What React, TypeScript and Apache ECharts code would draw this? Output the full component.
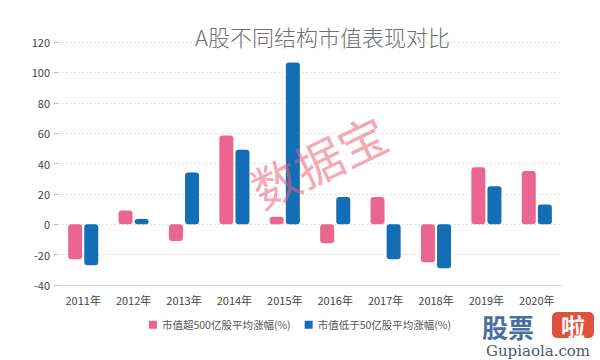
import React, { useEffect, useRef } from "react";
import * as echarts from "echarts";

const categories = ["2011年", "2012年", "2013年", "2014年", "2015年", "2016年", "2017年", "2018年", "2019年", "2020年"];
const seriesNames = ["市值超500亿股平均涨幅(%)", "市值低于50亿股平均涨幅(%)"];
const largeCap = [-23, 9, -11, 58.5, 5, -12.5, 18, -25, 37.5, 35];
const smallCap = [-27, 3.5, 34, 49, 106.5, 18, -23, -29, 25, 13];
const yMin = -40;
const yMax = 120;
const yInterval = 20;

export default function App() {
  const ref = useRef<HTMLDivElement>(null);
  useEffect(() => {
    if (!ref.current) return;
    const chart = echarts.init(ref.current, undefined, { renderer: "svg" });
    chart.setOption({
      animation: false,
      backgroundColor: "#ffffff",
      title: {
        text: "A股不同结构市值表现对比",
        left: 190,
        top: 20,
        textStyle: { fontSize: 22, fontWeight: 300, color: "#707070", fontFamily: "Noto Sans CJK SC" },
      },
      grid: { left: 58, right: 38, top: 42, bottom: 75 },
      legend: {
        bottom: 25,
        left: "center",
        itemWidth: 8,
        itemHeight: 8,
        itemGap: 14,
        icon: "rect",
        textStyle: { fontSize: 10.5, color: "#555", fontFamily: "Noto Sans CJK SC" },
        data: seriesNames,
      },
      xAxis: {
        type: "category",
        data: categories,
        axisLine: { onZero: false, lineStyle: { color: "#d8d8d8" } },
        axisTick: { alignWithLabel: true, lineStyle: { color: "#d8d8d8" } },
        axisLabel: { color: "#444", fontSize: 11, margin: 9, fontFamily: "Noto Sans CJK SC" },
      },
      yAxis: {
        type: "value",
        min: yMin,
        max: yMax,
        interval: yInterval,
        axisLine: { show: false },
        axisTick: { show: true, length: 4, lineStyle: { color: "#bbb" } },
        axisLabel: { color: "#444", fontSize: 11, margin: 8, fontFamily: "Noto Sans CJK SC" },
        splitLine: { lineStyle: { color: "#e2e2e2", type: [2, 2] } },
      },
      series: [
        {
          name: seriesNames[0],
          type: "bar",
          data: largeCap,
          barWidth: 14,
          barGap: "15%",
          itemStyle: { color: "#EB6591", borderRadius: 3 },
        },
        {
          name: seriesNames[1],
          type: "bar",
          data: smallCap,
          barWidth: 14,
          itemStyle: { color: "#136EB5", borderRadius: 3 },
        },
      ],
      graphic: [
        {
          type: "text",
          x: 318,
          y: 160,
          rotation: Math.PI / 7,
          style: {
            text: "数据宝",
            fill: "rgba(232,100,120,0.55)",
            font: "48px 'Noto Sans CJK SC'",
            align: "center",
            verticalAlign: "middle",
          },
          z: 100,
        },
        {
          type: "text",
          x: 482,
          y: 326,
          style: {
            text: "股票",
            font: "bold 26px 'Noto Sans CJK SC'",
            fill: "#4a6fa0",
            verticalAlign: "middle",
            lineHeight: 24,
          },
          z: 100,
        },
        {
          type: "rect",
          shape: { x: 552, y: 312, width: 42, height: 26, r: 5 },
          style: { fill: "#e0503e" },
          z: 100,
        },
        {
          type: "text",
          x: 573,
          y: 325,
          style: {
            text: "啦",
            font: "bold 24px 'Noto Sans CJK SC'",
            fill: "#ffffff",
            align: "center",
            verticalAlign: "middle",
            lineHeight: 24,
          },
          z: 101,
        },
        {
          type: "text",
          x: 538,
          y: 351,
          style: {
            text: "Gupiaola.com",
            font: "15px 'DejaVu Serif'",
            fill: "#4a5a70",
            align: "center",
            verticalAlign: "middle",
            lineHeight: 14,
          },
          z: 100,
        },
      ],
    });
    return () => chart.dispose();
  }, []);
  return <div ref={ref} style={{ position: "fixed", left: 0, top: 0, width: 600, height: 360 }} />;
}
